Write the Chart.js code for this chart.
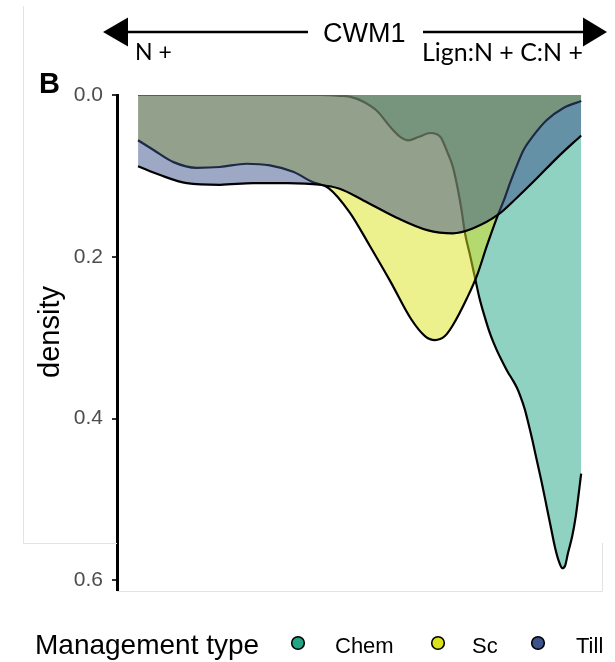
<!DOCTYPE html>
<html><head><meta charset="utf-8">
<script src="https://cdn.jsdelivr.net/npm/chart.js@4"></script>
<style>html,body{margin:0;padding:0;background:#fff;}#wrap{width:615px;height:662px;}</style>
</head><body><div id="wrap"><canvas id="c" width="615" height="662"></canvas></div>
<script>
// ---- data ----
const seriesNames = ['Chem', 'Sc', 'Till'];
const seriesColors = ['#21A585', '#D9E21B', '#3B528B'];

const chemCWM1    = [-2.00,-1.44,-0.90,-0.36,-0.18,-0.09,0.03,0.16,0.28,0.37,0.44,0.53,0.64,0.73,0.79,0.84,0.88,0.92,0.95,1.00,1.04,1.08,1.12,1.18,1.24,1.29,1.34,1.38,1.42,1.45,1.49,1.52,1.56,1.60,1.65,1.69,1.73,1.765,1.80,1.83,1.855,1.88,1.92,1.95,2.00];
const chemDensity = [0,0,0,0,0.001,0.002,0.008,0.020,0.040,0.052,0.056,0.052,0.047,0.052,0.070,0.088,0.112,0.142,0.170,0.200,0.225,0.250,0.270,0.296,0.316,0.330,0.343,0.352,0.362,0.372,0.388,0.404,0.427,0.452,0.483,0.510,0.537,0.560,0.577,0.585,0.582,0.567,0.545,0.522,0.468];

const scCWM1    = [-2.00,-1.86,-1.68,-1.47,-1.26,-1.02,-0.81,-0.60,-0.42,-0.28,-0.09,0.09,0.28,0.46,0.59,0.68,0.77,0.84,0.97,1.06,1.15,1.25,1.30,1.36,1.42,1.48,1.57,1.69,1.84,2.00];
const scDensity = [0.056,0.068,0.083,0.090,0.089,0.085,0.087,0.095,0.108,0.115,0.145,0.186,0.231,0.276,0.298,0.303,0.298,0.285,0.251,0.223,0.186,0.148,0.131,0.108,0.087,0.068,0.050,0.031,0.016,0.0075];

const tillCWM1    = [-2.00,-1.80,-1.56,-1.26,-0.96,-0.65,-0.36,-0.18,0.03,0.34,0.61,0.84,1.02,1.25,1.42,1.60,1.78,2.00];
const tillDensity = [0.088,0.099,0.109,0.111,0.109,0.109,0.111,0.116,0.130,0.152,0.167,0.171,0.165,0.148,0.127,0.103,0.078,0.050];

const yTickValues = [0, 0.2, 0.4, 0.6];
const yTickLabels = ['0.0', '0.2', '0.4', '0.6'];
const xAxisName = 'CWM1';
const leftEndLabel = 'N +';
const rightEndLabel = 'Lign:N + C:N +';
const panelLabel = 'B';
const yAxisName = 'density';
const legendTitle = 'Management type';

// ---- helpers ----
const pts = (xs, ys) => xs.map((x, i) => ({x: x, y: ys[i]}));
const fillRGBA = (hex, a) => {
  const n = parseInt(hex.slice(1), 16);
  return `rgba(${(n>>16)&255},${(n>>8)&255},${n&255},${a})`;
};
const FONT = "'Liberation Sans', Arial, sans-serif";
Chart.defaults.font.family = FONT;

const datasets = [
  {label: seriesNames[0], data: pts(chemCWM1, chemDensity), order: 3},
  {label: seriesNames[1], data: pts(scCWM1, scDensity), order: 2},
  {label: seriesNames[2], data: pts(tillCWM1, tillDensity), order: 1}
].map((d, i) => Object.assign(d, {
  borderColor: '#000',
  borderWidth: 2.2,
  backgroundColor: fillRGBA(seriesColors[i], 0.5),
  fill: 'origin',
  pointRadius: 0,
  cubicInterpolationMode: 'monotone'
}));

const decor = {
  id: 'decor',
  afterDraw(chart) {
    const ctx = chart.ctx;
    ctx.save();
    // faint frame remnants
    ctx.strokeStyle = '#e3e3e3'; ctx.lineWidth = 1;
    ctx.beginPath();
    ctx.moveTo(23.5, 6); ctx.lineTo(23.5, 543.5); ctx.lineTo(117, 543.5);
    ctx.moveTo(117, 591.5); ctx.lineTo(602.5, 591.5); ctx.lineTo(602.5, 543);
    ctx.stroke();

    // double arrow
    ctx.strokeStyle = '#000'; ctx.fillStyle = '#000'; ctx.lineWidth = 2.5;
    ctx.beginPath(); ctx.moveTo(126, 32); ctx.lineTo(308, 32); ctx.stroke();
    ctx.beginPath(); ctx.moveTo(423, 32); ctx.lineTo(585, 32); ctx.stroke();
    ctx.beginPath(); ctx.moveTo(103, 32); ctx.lineTo(128, 17.5); ctx.lineTo(128, 46.5); ctx.closePath(); ctx.fill();
    ctx.beginPath(); ctx.moveTo(607, 32); ctx.lineTo(583, 17.5); ctx.lineTo(583, 46.5); ctx.closePath(); ctx.fill();

    ctx.textBaseline = 'alphabetic'; ctx.textAlign = 'left';
    ctx.font = `27px ${FONT}`;
    ctx.fillText(xAxisName, 323, 42);

    const fitText = (txt, x, y, w) => {
      let s = 24; ctx.font = `${s}px Lato, ${FONT}`;
      s = s * w / ctx.measureText(txt).width;
      ctx.font = `${s}px Lato, ${FONT}`;
      ctx.fillText(txt, x, y);
    };
    fitText(rightEndLabel, 422, 61, 161);
    ctx.font = `23px Lato, ${FONT}`;
    ctx.fillText(leftEndLabel, 135, 60);

    // panel letter
    ctx.font = `bold 29px ${FONT}`;
    ctx.fillText(panelLabel, 39, 93);

    // y-axis name
    ctx.save();
    ctx.translate(51, 332); ctx.rotate(-Math.PI / 2);
    ctx.textAlign = 'center'; ctx.textBaseline = 'middle';
    ctx.font = `29px ${FONT}`;
    ctx.fillText(yAxisName, 0, 0);
    ctx.restore();

    // legend
    ctx.font = `28px ${FONT}`;
    ctx.fillText(legendTitle, 35, 654);
    const dotX = [298, 438, 538];
    const txtX = [335, 472, 576];
    ctx.font = `22px ${FONT}`;
    seriesNames.forEach((n, i) => {
      ctx.beginPath(); ctx.arc(dotX[i], 643, 6.3, 0, Math.PI * 2);
      ctx.fillStyle = seriesColors[i]; ctx.fill();
      ctx.lineWidth = 1.6; ctx.strokeStyle = '#000'; ctx.stroke();
      ctx.fillStyle = '#000';
      ctx.fillText(n, txtX[i], 653);
    });
    ctx.restore();
  }
};

new Chart(document.getElementById('c'), {
  type: 'line',
  data: {datasets},
  options: {
    responsive: false,
    animation: false,
    layout: {padding: {left: 0, top: 95, right: 15, bottom: 72}},
    plugins: {legend: {display: false}, tooltip: {enabled: false}},
    scales: {
      x: {type: 'linear', display: false, min: -2.19, max: 2.17},
      y: {
        type: 'linear', reverse: true, min: 0, max: 0.612,
        afterFit(s) { s.width = 117; },
        afterBuildTicks(s) { s.ticks = yTickValues.map(v => ({value: v})); },
        ticks: {
          callback: (v, i) => yTickLabels[i],
          font: {size: 21}, color: '#4d4d4d', padding: 9
        },
        grid: {drawOnChartArea: false, drawTicks: true, tickLength: 5, color: '#333', lineWidth: 2},
        border: {display: true, color: '#000', width: 3},
        title: {display: false}
      }
    }
  },
  plugins: [decor]
});
</script></body></html>
